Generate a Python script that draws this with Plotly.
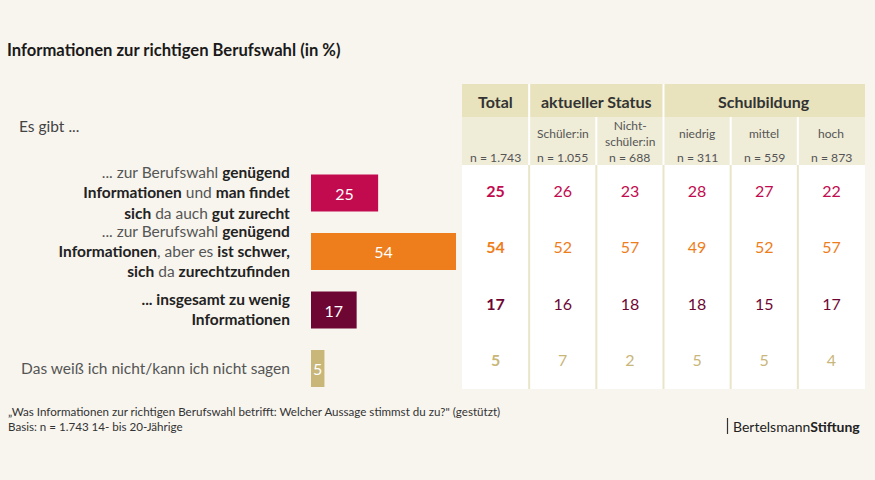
import plotly.graph_objects as go

W, H = 875, 480

# ---------------- data ----------------
categories = [
    "... zur Berufswahl <b>genügend</b><br><b>Informationen</b> und <b>man findet</b><br><b>sich</b> da auch <b>gut zurecht</b>",
    "... zur Berufswahl <b>genügend</b><br><b>Informationen</b>, aber es <b>ist schwer,</b><br><b>sich</b> da <b>zurechtzufinden</b>",
    "<b>... insgesamt zu wenig</b><br><b>Informationen</b>",
    "Das weiß ich nicht/kann ich nicht sagen",
]
total_values = [25, 54, 17, 5]
row_colors = ["#c20a4e", "#ee7d1b", "#6e0634", "#c9b679"]

group_headers = ["Total", "aktueller Status", "Schulbildung"]
group_centers = [0, 1.5, 4]
sub_headers = ["", "Schüler:in", "Nicht-<br>schüler:in", "niedrig", "mittel", "hoch"]
n_labels = ["n = 1.743", "n = 1.055", "n = 688", "n = 311", "n = 559", "n = 873"]

# table values per column: Total, Schüler:in, Nicht-schüler:in, niedrig, mittel, hoch
col_total = [25, 54, 17, 5]
col_schueler = [26, 52, 16, 7]
col_nichtschueler = [23, 57, 18, 2]
col_niedrig = [28, 49, 18, 5]
col_mittel = [27, 52, 15, 5]
col_hoch = [22, 57, 17, 4]
table_cols = [col_total, col_schueler, col_nichtschueler, col_niedrig, col_mittel, col_hoch]

title = "Informationen zur richtigen Berufswahl (in %)"
intro = "Es gibt ..."
footnote1 = "„Was Informationen zur richtigen Berufswahl betrifft: Welcher Aussage stimmst du zu?\" (gestützt)"
footnote2 = "Basis: n = 1.743 14- bis 20-Jährige"

# ---------------- helpers ----------------
def px(x):
    return x / W

def py(y):
    return 1 - y / H

FONT = "Lato, 'Open Sans', sans-serif"
BG = "#f8f5ee"

# darker colour for the emphasised (bold) parts of the labels
tick_text = [c.replace("<b>", "<span style='color:#222222'><b>").replace("</b>", "</b></span>")
             for c in categories]

fig = go.Figure()

# bars
fig.add_trace(go.Bar(
    x=total_values, y=categories, orientation="h",
    marker=dict(color=row_colors, line=dict(width=0)),
    text=total_values, textposition="inside", insidetextanchor="middle",
    constraintext="none",
    textfont=dict(color="white", size=16, family=FONT),
    cliponaxis=False, hoverinfo="skip",
    xaxis="x", yaxis="y",
))

# table values (Total column bold)
for ci, col in enumerate(table_cols):
    fig.add_trace(go.Scatter(
        x=[ci] * len(col), y=categories, mode="text",
        text=[str(v) for v in col],
        textfont=dict(color=row_colors, size=16,
                      family=FONT, weight=700 if ci == 0 else 400),
        textposition="middle center",
        hoverinfo="skip", xaxis="x2", yaxis="y2", showlegend=False,
    ))

bar_y_top, bar_y_bot = 163.75, 397.75
tab_y_top, tab_y_bot = 164.8, 390.2

fig.update_layout(
    width=W, height=H,
    margin=dict(l=0, r=0, t=0, b=0),
    paper_bgcolor=BG, plot_bgcolor="rgba(0,0,0,0)",
    showlegend=False,
    bargap=1 - 37 / 58.5,
    font=dict(family=FONT, color="#555555"),
    xaxis=dict(domain=[px(311), px(311 + 60 * 2.685)], range=[0, 60],
               showgrid=False, zeroline=False, showticklabels=False, fixedrange=True),
    yaxis=dict(domain=[py(bar_y_bot), py(bar_y_top)], type="category",
               categoryorder="array", categoryarray=categories,
               tickmode="array", tickvals=categories, ticktext=tick_text,
               range=[3.5, -0.5], showgrid=False, zeroline=False,
               ticks="outside", ticklen=17, tickcolor="rgba(0,0,0,0)",
               tickfont=dict(size=15.5, color="#555555", family=FONT)),
    xaxis2=dict(domain=[px(462), px(865)], range=[-0.5, 5.5], anchor="y2",
                showgrid=False, zeroline=False, showticklabels=False),
    yaxis2=dict(domain=[py(tab_y_bot), py(tab_y_top)], type="category",
                categoryorder="array", categoryarray=categories,
                range=[3.5, -0.5], anchor="x2", showgrid=False, zeroline=False,
                showticklabels=False),
)

shapes = []
# table backgrounds
shapes.append(dict(type="rect", xref="paper", yref="paper", layer="below",
                   x0=px(462), x1=px(865), y0=py(389), y1=py(165),
                   fillcolor="#ffffff", line=dict(width=0)))
shapes.append(dict(type="rect", xref="paper", yref="paper", layer="below",
                   x0=px(462), x1=px(865), y0=py(117), y1=py(84),
                   fillcolor="#e8e3bd", line=dict(width=0)))
shapes.append(dict(type="rect", xref="paper", yref="paper", layer="below",
                   x0=px(462), x1=px(865), y0=py(165), y1=py(117),
                   fillcolor="#efecd8", line=dict(width=0)))
# separators
for xs in [0.5, 2.5]:
    shapes.append(dict(type="line", xref="x2", yref="paper", layer="below",
                       x0=xs, x1=xs, y0=py(117), y1=py(84),
                       line=dict(color="#ffffff", width=2)))
for xs in [0.5, 1.5, 2.5, 3.5, 4.5]:
    shapes.append(dict(type="line", xref="x2", yref="paper", layer="below",
                       x0=xs, x1=xs, y0=py(165), y1=py(117),
                       line=dict(color="#ffffff", width=2)))
    shapes.append(dict(type="line", xref="x2", yref="paper", layer="below",
                       x0=xs, x1=xs, y0=py(389), y1=py(165),
                       line=dict(color="#e9e5c9", width=2)))
# logo bar
shapes.append(dict(type="line", xref="paper", yref="paper",
                   x0=px(727.5), x1=px(727.5), y0=py(434), y1=py(418),
                   line=dict(color="#333333", width=1.2)))
fig.update_layout(shapes=shapes)

ann = []
ann.append(dict(text=f"<b>{title}</b>", xref="paper", yref="paper",
                x=px(5), y=py(50), xanchor="left", yanchor="middle", showarrow=False,
                font=dict(size=16.6, color="#1a1a1a", family=FONT)))
ann.append(dict(text=intro, xref="paper", yref="paper",
                x=px(17), y=py(126), xanchor="left", yanchor="middle", showarrow=False,
                font=dict(size=15.5, color="#444444", family=FONT)))
for g, c in zip(group_headers, group_centers):
    ann.append(dict(text=f"<b>{g}</b>", xref="x2", yref="paper", x=c, y=py(101),
                    xanchor="center", yanchor="middle", showarrow=False,
                    font=dict(size=16, color="#333333", family=FONT)))
for i, (s, n) in enumerate(zip(sub_headers, n_labels)):
    if s:
        ann.append(dict(text=s, xref="x2", yref="paper", x=i, y=py(133),
                        xanchor="center", yanchor="middle", showarrow=False,
                        font=dict(size=12, color="#555555", family=FONT)))
    ann.append(dict(text=n, xref="x2", yref="paper", x=i, y=py(157),
                    xanchor="center", yanchor="middle", showarrow=False,
                    font=dict(size=12.2, color="#555555", family=FONT)))
ann.append(dict(text=footnote1, xref="paper", yref="paper", x=px(6), y=py(411),
                xanchor="left", yanchor="middle", showarrow=False,
                font=dict(size=11.6, color="#333333", family=FONT)))
ann.append(dict(text=footnote2, xref="paper", yref="paper", x=px(6), y=py(426),
                xanchor="left", yanchor="middle", showarrow=False,
                font=dict(size=11.6, color="#333333", family=FONT)))
ann.append(dict(text="Bertelsmann<b>Stiftung</b>", xref="paper", yref="paper",
                x=px(862), y=py(426), xanchor="right", yanchor="middle", showarrow=False,
                font=dict(size=14, color="#222222", family=FONT)))
fig.update_layout(annotations=ann)

fig.write_html("out.html", config={"displayModeBar": False})
